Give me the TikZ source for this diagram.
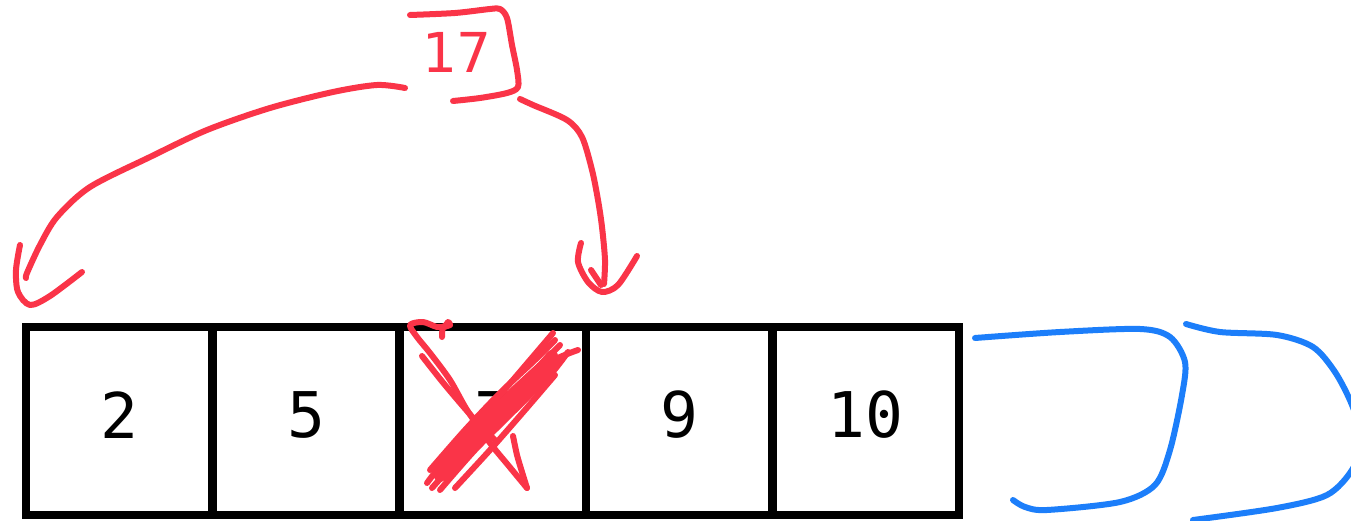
\documentclass[tikz,border=0pt]{standalone}
\usepackage{fontspec}
\newfontfamily\cellfont{DejaVu Sans Mono}
\newfontfamily\handfont{DejaVu Sans}
\definecolor{inkred}{RGB}{250,52,72}
\definecolor{inkblue}{RGB}{28,126,250}
\tikzset{
  cellbox/.style={draw=black, line width=8pt, minimum width=186.5pt, minimum height=188pt, inner sep=0pt},
  num/.style={font=\cellfont\fontsize{63}{63}\selectfont, inner sep=0pt},
  redink/.style={draw=inkred, line width=6pt, line cap=round, line join=round},
  blueink/.style={draw=inkblue, line width=6pt, line cap=round, line join=round},
  handnum/.style={font=\handfont\fontsize{55}{55}\selectfont, text=inkred, inner sep=0pt}
}
\begin{document}
\begin{tikzpicture}[x=1pt,y=-1pt]
\useasboundingbox (0,0) rectangle (1351,521);
\clip (0,0) rectangle (1351,521);
\fill[white] (0,0) rectangle (1351,521);

% array cells
\node[cellbox] (c1) at (119,421) {};
\node[cellbox] (c2) at (306,421) {};
\node[cellbox] (c3) at (493,421) {};
\node[cellbox] (c4) at (679.5,421) {};
\node[cellbox] (c5) at (865.5,421) {};
\node[num] (t1) at ([yshift=6pt]c1.center) {2};
\node[num] (t2) at ([yshift=6pt]c2.center) {5};
\node[num] (t3) at ([yshift=6pt]c3.center) {7};
\node[num] (t4) at ([yshift=6pt]c4.center) {9};
\node[num] (t5) at ([yshift=6pt]c5.center) {10};

% the new value 17 in a hand-drawn box
\node[handnum] (v) at (457,52) {17};
\path[redink] plot[smooth, tension=0.5] coordinates {(410,15) (455,13) (490,9) (500,9) (507,18) (512,45) (517,70) (518,87) (507,93) (480,98) (453,101)};

% connectors from the 17 box to the neighbouring cells
\coordinate (ls) at (405,88);
\coordinate (rs) at (520,99);
\path[redink] plot[smooth] coordinates {(ls) (377,85) (333,92) (270,108) (207,130) (150,157) (90,187) (57,217) (40,245) (27,273) (26,278)};
\path[redink] plot[smooth] coordinates {(20,245) (16,270) (18,292) (30,305) (50,296) (82,272)};
\path[redink] plot[smooth] coordinates {(rs) (533,105) (567,120) (582,137) (592,170) (598,200) (602,227) (605,260) (604,284)};
\path[redink] plot[smooth] coordinates {(581,243) (578,262) (588,282) (602,292) (618,285) (637,256)};
\path[redink] plot[smooth] coordinates {(591,270) (601,285)};

% scribble crossing out 7
\path[redink] plot[smooth] coordinates {(442,337) (443,328) (450,325) (448,322) (445,326) (437,327) (423,322) (410,325) (417,337) (430,353) (450,380) (467,410) (490,443) (508,465) (527,488)};
\path[redink] plot[smooth] coordinates {(422,356) (445,385) (475,420) (495,440)};
\path[redink] plot[smooth] coordinates {(513,436) (517,455) (522,472) (527,488)};
\path[redink] plot[smooth] coordinates {(427,483) (460,440) (500,395) (530,360) (553,333)};
\path[redink] plot[smooth] coordinates {(432,488) (470,445) (510,400) (545,365) (578,350)};
\path[redink] plot[smooth] coordinates {(440,490) (475,450) (515,410) (550,375) (568,352)};
\path[redink] plot[smooth] coordinates {(430,470) (465,430) (500,393) (535,360) (555,340)};
\path[redink] plot[smooth] coordinates {(445,478) (480,440) (520,400) (557,363)};
\path[redink] plot[smooth] coordinates {(455,488) (490,450) (525,410) (555,375)};
\path[redink] plot[smooth] coordinates {(435,475) (470,438) (505,398) (540,365) (560,345)};
\path[redink] plot[smooth] coordinates {(450,470) (485,432) (515,398) (548,360)};
\path[redink, line width=16pt] plot[smooth] coordinates {(448,465) (480,430) (512,398) (540,372)};
\path[redink, line width=12pt] plot[smooth] coordinates {(440,476) (470,445) (505,405) (535,375) (552,356)};

% blue extension curves
\path[blueink] plot[smooth] coordinates {(975,338) (1060,332) (1140,329) (1170,337) (1185,362) (1182,395) (1170,450) (1155,485) (1120,502) (1047,510) (1025,507) (1013,500)};
\path[blueink] plot[smooth] coordinates {(1186,324) (1220,332) (1277,335) (1313,347) (1335,372) (1352,405) (1362,440) (1352,470) (1327,495) (1277,508) (1193,520)};
\end{tikzpicture}
\end{document}
